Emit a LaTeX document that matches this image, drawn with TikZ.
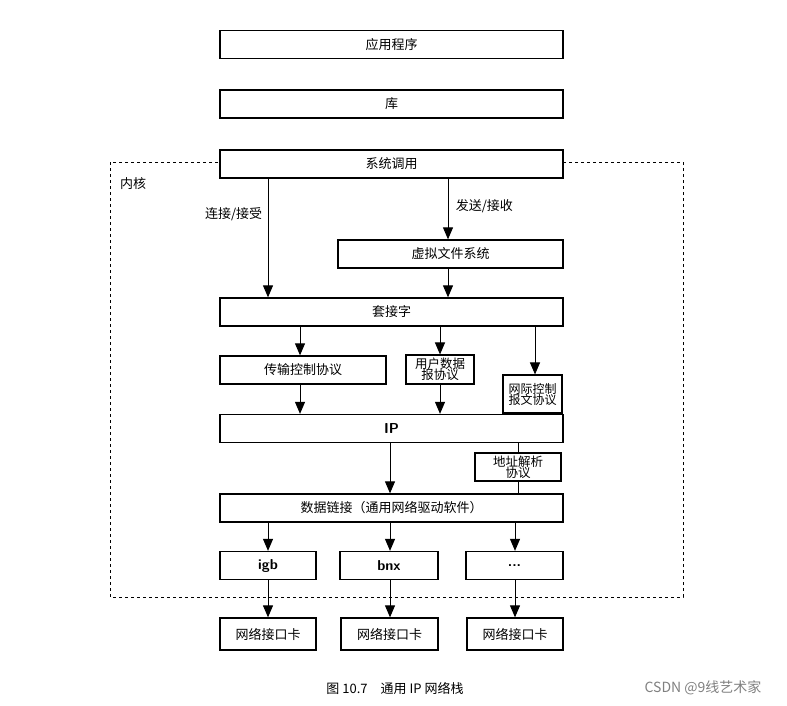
\documentclass[tikz,border=0pt]{standalone}
\usepackage{fontspec}
\setmainfont{Noto Sans CJK SC}
\usetikzlibrary{arrows.meta}
\begin{document}
\begin{tikzpicture}[x=1pt,y=-1pt,
  bx/.style={draw,fill=white,line width=1.3pt,minimum height=28pt,inner sep=0pt,font=\fontsize{13}{14}\selectfont,align=center},
  sb/.style={draw,fill=white,line width=1.1pt,inner sep=0pt,font=\fontsize{12.5}{13}\selectfont,align=center},
  ar/.style={-{Triangle[length=12pt,width=10pt]},line width=1pt},
  ln/.style={line width=1pt}]
\useasboundingbox (0,0) rectangle (787,705);
\draw[dashed,line width=0.7pt] (110,162) rectangle (683,597);
\node at (133,184) {\fontsize{13}{14}\selectfont 内核};
\node[bx,minimum width=343pt] (app) at (391.5,44.5) {应用程序};
\node[bx,minimum width=343pt] (lib) at (391.5,104) {库};
\node[bx,minimum width=343pt] (sys) at (391.5,164) {系统调用};
\node[bx,minimum width=225pt] (vfs) at (450.5,254) {虚拟文件系统};
\node[bx,minimum width=343pt] (sock) at (391.5,312) {套接字};
\node[bx,minimum width=166pt] (tcp) at (303,370) {传输控制协议};
\node[sb,minimum width=68pt,minimum height=29pt] (udp) at (440,369.5) {用户数据\\[-2pt]报协议};
\node[sb,minimum width=59pt,minimum height=38pt,font=\fontsize{12}{12}\selectfont] (icmp) at (532.5,394) {网际控制\\[-1pt]报文协议};
\node[bx,minimum width=343pt,font=\sffamily\bfseries\Large] (ip) at (391.5,428.5) {IP};
\node[sb,minimum width=86pt,minimum height=28pt] (arp) at (518,467) {地址解析\\[-2pt]协议};
\node[bx,minimum width=343pt] (dl) at (391.5,508) {数据链接（通用网络驱动软件）};
\node[bx,minimum width=96pt,font=\sffamily\bfseries\Large] (igb) at (268,565.5) {igb};
\node[bx,minimum width=98pt,font=\sffamily\bfseries\Large] (bnx) at (389,565.5) {bnx};
\node[bx,minimum width=97pt,font=\sffamily\bfseries\Large] (dots) at (514.5,565.5) {...};
\node[bx,minimum width=96pt,minimum height=32pt] (n1) at (268,634) {网络接口卡};
\node[bx,minimum width=97pt,minimum height=32pt] (n2) at (389.5,634) {网络接口卡};
\node[bx,minimum width=96pt,minimum height=32pt] (n3) at (515,634) {网络接口卡};
\draw[ar] (sys.south -| 268,0) -- (sock.north -| 268,0) node[pos=0.3,left=2pt,font=\fontsize{13}{14}\selectfont] {连接/接受};
\draw[ar] (sys.south -| 448,0) -- (vfs.north -| 448,0) node[pos=0.45,right=4pt,font=\fontsize{13}{14}\selectfont] {发送/接收};
\draw[ar] (vfs.south -| 448,0) -- (sock.north -| 448,0);
\draw[ar] (sock.south -| 300,0) -- (tcp.north -| 300,0);
\draw[ar] (sock.south -| 440,0) -- (udp.north);
\draw[ar] (sock.south -| 535,0) -- (icmp.north -| 535,0);
\draw[ar] (tcp.south -| 300,0) -- (ip.north -| 300,0);
\draw[ar] (udp.south) -- (ip.north -| 440,0);
\draw[ar] (ip.south -| 390,0) -- (dl.north -| 390,0);
\draw[ln] (ip.south -| arp.north) -- (arp.north);
\draw[ln] (arp.south) -- (dl.north -| arp.south);
\draw[ar] (dl.south -| igb.north) -- (igb.north);
\draw[ar] (dl.south -| 390,0) -- (bnx.north -| 390,0);
\draw[ar] (dl.south -| 515,0) -- (dots.north -| 515,0);
\draw[ar] (igb) -- (n1);
\draw[ar] (bnx.south -| 390,0) -- (n2.north -| 390,0);
\draw[ar] (dots.south -| 515,0) -- (n3.north -| 515,0);
\node (cap) at (395,688) {\fontsize{13}{14}\selectfont 图 10.7\quad 通用 IP 网络栈};
\node[text=gray] (wm) at (703,688) {\fontsize{14}{15}\selectfont CSDN @9线艺术家};
\end{tikzpicture}
\end{document}
